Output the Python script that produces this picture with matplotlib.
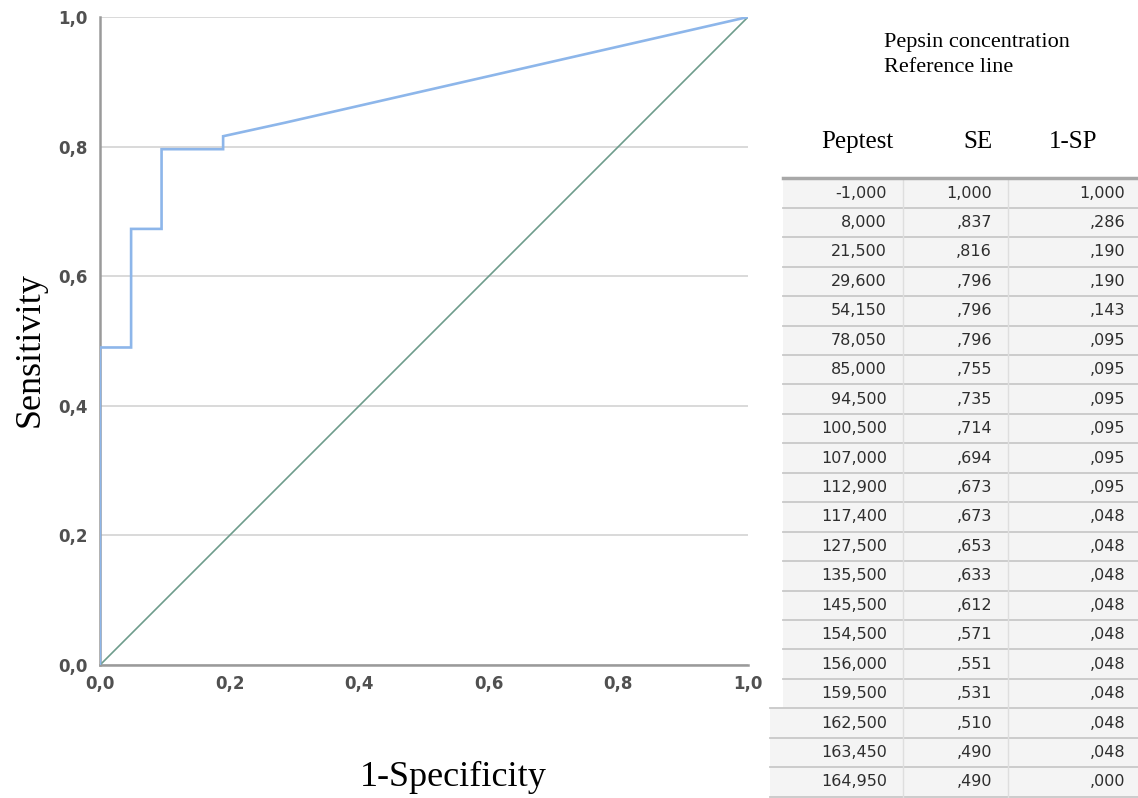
import matplotlib
matplotlib.use("Agg")
import matplotlib.pyplot as plt

# ---- data ----
peptest = ["-1,000", "8,000", "21,500", "29,600", "54,150", "78,050", "85,000",
           "94,500", "100,500", "107,000", "112,900", "117,400", "127,500",
           "135,500", "145,500", "154,500", "156,000", "159,500", "162,500",
           "163,450", "164,950"]
se = [1.000, .837, .816, .796, .796, .796, .755, .735, .714, .694, .673, .673,
      .653, .633, .612, .571, .551, .531, .510, .490, .490]
one_minus_sp = [1.000, .286, .190, .190, .143, .095, .095, .095, .095, .095,
                .095, .048, .048, .048, .048, .048, .048, .048, .048, .048, .000]
# curve end point at the origin (highest cut-off)
origin_fpr = [0.0]
origin_tpr = [0.0]
ticks = [0.0, 0.2, 0.4, 0.6, 0.8, 1.0]
tick_labels = ["0,0", "0,2", "0,4", "0,6", "0,8", "1,0"]
legend_labels = ["Pepsin concentration", "Reference line"]
headers = ["Peptest", "SE", "1-SP"]


def fmt(v):
    s = f"{v:.3f}".replace(".", ",")
    if s.startswith("0,"):
        s = s[1:]
    return s


W, H = 1138, 798
fig = plt.figure(figsize=(W / 100, H / 100), dpi=100)
fig.patch.set_facecolor("white")

serif = ["Liberation Serif", "DejaVu Serif"]

ax = fig.add_axes([100 / W, 1 - 665 / H, 648 / W, 648 / H])
fx = one_minus_sp + origin_fpr
fy = se + origin_tpr
ax.plot(fx, fy, color="#8db6ea", lw=1.9, zorder=4, solid_joinstyle="miter")
ax.plot([0, 1], [0, 1], color="#6e9c8c", lw=1.2, zorder=3)
ax.set_xlim(0, 1)
ax.set_ylim(0, 1)
ax.set_xticks(ticks)
ax.set_xticklabels(tick_labels)
ax.set_yticks(ticks)
ax.set_yticklabels(tick_labels)
ax.tick_params(axis="x", length=0, labelsize=12, pad=7)
ax.tick_params(axis="y", length=0, labelsize=12, pad=9)
for t in ax.get_xticklabels() + ax.get_yticklabels():
    t.set_color("#505050")
    t.set_fontweight("bold")
ax.grid(axis="y", color="#d3d3d3", lw=1.2, zorder=1)
for s in ["top", "right"]:
    ax.spines[s].set_visible(False)
ax.spines["left"].set_color("#9a9a9a")
ax.spines["left"].set_linewidth(1.8)
ax.spines["bottom"].set_color("#9a9a9a")
ax.spines["bottom"].set_linewidth(1.8)

# ---- overlay for labels, legend text & table ----
ov = fig.add_axes([0, 0, 1, 1], facecolor="none")
ov.set_xlim(0, W)
ov.set_ylim(H, 0)
ov.axis("off")

ov.text(453, 777, "1-Specificity", family=serif, fontsize=26, ha="center", va="center")
ov.text(30, 350, "Sensitivity", family=serif, fontsize=26, ha="center", va="center",
        rotation=90)

for i, lab in enumerate(legend_labels):
    ov.text(884, 43 + i * 25, lab, family=serif, fontsize=16, va="center", ha="left")

hdr_x = [893, 993, 1097]
for x, h in zip(hdr_x, headers):
    ov.text(x, 142, h, family=serif, fontsize=18, va="center", ha="right")

row0 = 193
rh = 29.45
n = len(peptest)
top = row0 - rh / 2
bottom = row0 + (n - 0.5) * rh
ov.add_patch(plt.Rectangle((783, top), W - 783, bottom - top,
                           facecolor="#f4f4f4", edgecolor="none", zorder=0))
ov.add_patch(plt.Rectangle((770, row0 + 17.5 * rh), 13, bottom - (row0 + 17.5 * rh),
                           facecolor="#f4f4f4", edgecolor="none", zorder=0))
ov.plot([783, W], [top, top], color="#a8a8a8", lw=2.5, zorder=2)
for i in range(1, n + 1):
    y = top + i * rh
    x0 = 770 if i >= 18 else 783
    ov.plot([x0, W], [y, y], color="#c8c8c8", lw=1.3, zorder=1)
for x in [903, 1008]:
    ov.plot([x, x], [top, bottom], color="#dedede", lw=1.0, zorder=1)

num_x = [887, 992, 1125]
for i in range(n):
    y = row0 + i * rh
    ov.text(num_x[0], y, peptest[i], fontsize=11.5, ha="right", va="center", color="#2e2e2e")
    ov.text(num_x[1], y, fmt(se[i]), fontsize=11.5, ha="right", va="center", color="#2e2e2e")
    ov.text(num_x[2], y, fmt(one_minus_sp[i]), fontsize=11.5, ha="right", va="center", color="#2e2e2e")

fig.savefig("out.png", dpi=100)
